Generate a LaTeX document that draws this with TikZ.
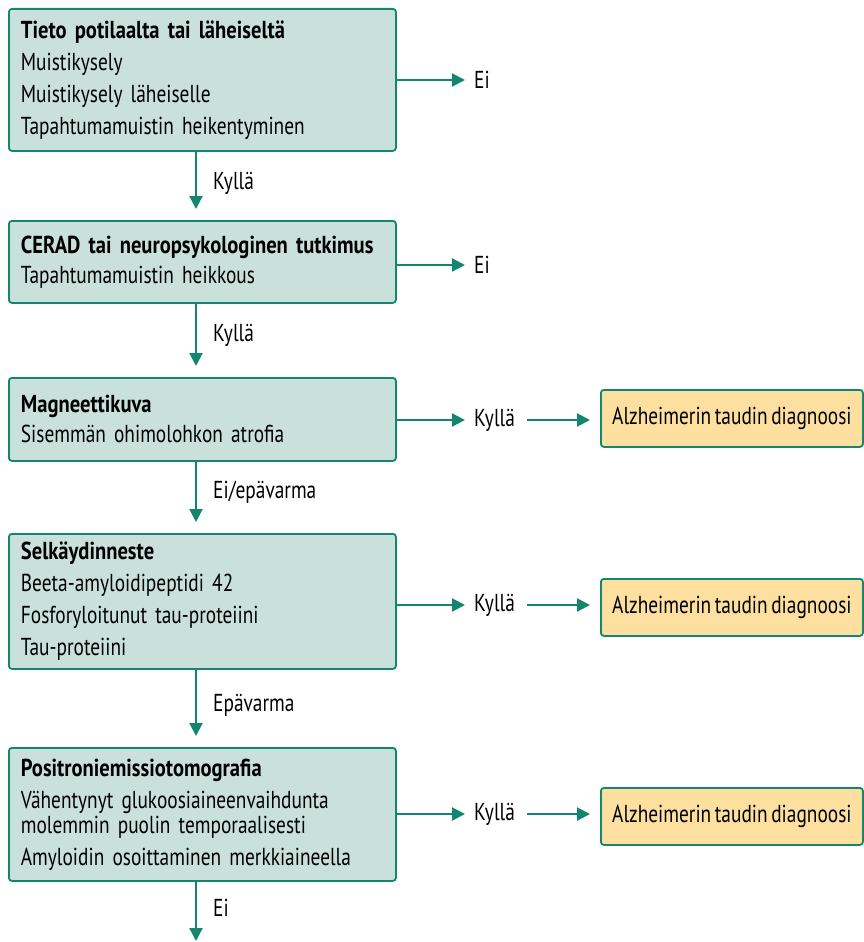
\documentclass[tikz,border=0pt]{standalone}
\usepackage{fontspec}
\setmainfont{PT Sans}[FakeStretch=0.79, WordSpace=0.7, BoldFeatures={FakeStretch=0.84}]
\usetikzlibrary{arrows.meta,calc}
\definecolor{tealline}{RGB}{18,134,110}
\definecolor{boxfill}{RGB}{201,225,218}
\definecolor{orfill}{RGB}{253,224,160}
\begin{document}
\begin{tikzpicture}[x=1pt,y=-1pt,
  box/.style={draw=tealline, line width=1.8pt, fill=boxfill, rounded corners=3pt,
    anchor=north west, align=left, inner xsep=0pt, inner ysep=0pt,
    minimum width=387pt, text width=363pt,
    font=\fontsize{24.5}{32}\selectfont},
  dbox/.style={draw=tealline, line width=1.8pt, fill=orfill, rounded corners=3pt,
    anchor=north west, minimum width=262pt, minimum height=57pt,
    inner xsep=0pt, font=\fontsize{24.5}{28}\selectfont},
  lbl/.style={anchor=west, inner sep=0pt, font=\fontsize{24.5}{28}\selectfont},
  arr/.style={draw=tealline, line width=2.2pt,
    -{Triangle[length=13pt,width=13pt]}},
]
\useasboundingbox (0,0) rectangle (863,942);
\coordinate (v) at (196,0);

% main boxes
\node[box, minimum height=142pt] (b1) at (8,8) {\textbf{Tieto potilaalta tai läheiseltä}\\
Muistikysely\\
Muistikysely läheiselle\\
Tapahtumamuistin heikentyminen};
\node[box, minimum height=82pt] (b2) at (8,220) {\textbf{CERAD tai neuropsykologinen tutkimus}\\[-2pt]
Tapahtumamuistin heikkous};
\node[box, minimum height=83pt] (b3) at (8,377) {\textbf{Magneettikuva}\\[-2pt]
Sisemmän ohimolohkon atrofia};
\node[box, minimum height=135pt] (b4) at (8,533) {\textbf{Selkäydinneste}\\
Beeta-amyloidipeptidi 42\\
Fosforyloitunut tau-proteiini\\
Tau-proteiini};
\node[box, minimum height=133pt] (b5) at (8,747) {\textbf{Positroniemissiotomografia}\\
Vähentynyt glukoosiaineenvaihdunta\\[-7pt]
molemmin puolin temporaalisesti\\
Amyloidin osoittaminen merkkiaineella};

% diagnosis boxes
\node[dbox] (d3) at (600,389) {Alzheimerin taudin diagnoosi};
\node[dbox] (d4) at (600,578) {Alzheimerin taudin diagnoosi};
\node[dbox] (d5) at (600,787) {Alzheimerin taudin diagnoosi};

% right labels
\node[lbl] (e1) at (474,80) {Ei};
\node[lbl] (e2) at (474,265) {Ei};
\node[lbl] (k3) at (474,420) {Kyllä};
\node[lbl] (k4) at (474,605) {Kyllä};
\node[lbl] (k5) at (474,814) {Kyllä};

% down labels
\node[lbl] (l1) at (213,183) {Kyllä};
\node[lbl] (l2) at (213,335) {Kyllä};
\node[lbl] (l3) at (213,492) {Ei/epävarma};
\node[lbl] (l4) at (213,705) {Epävarma};
\node[lbl] (l5) at (213,908) {Ei};
\coordinate (end) at (196,942);

% horizontal arrows
\draw[arr, shorten >=9pt] (b1.east |- e1.west) -- (e1.west);
\draw[arr, shorten >=9pt] (b2.east |- e2.west) -- (e2.west);
\draw[arr, shorten >=9pt] (b3.east |- k3.west) -- (k3.west);
\draw[arr, shorten >=9pt] (b4.east |- k4.west) -- (k4.west);
\draw[arr, shorten >=9pt] (b5.east |- k5.west) -- (k5.west);
\draw[arr, shorten <=12pt, shorten >=10pt] (k3.east) -- (d3.west |- k3.east);
\draw[arr, shorten <=12pt, shorten >=10pt] (k4.east) -- (d4.west |- k4.east);
\draw[arr, shorten <=12pt, shorten >=10pt] (k5.east) -- (d5.west |- k5.east);

% vertical arrows
\draw[arr, shorten >=11pt] (b1.south -| v) -- (b2.north -| v);
\draw[arr, shorten >=11pt] (b2.south -| v) -- (b3.north -| v);
\draw[arr, shorten >=11pt] (b3.south -| v) -- (b4.north -| v);
\draw[arr, shorten >=11pt] (b4.south -| v) -- (b5.north -| v);
\draw[arr, shorten >=1pt] (b5.south -| v) -- (end);
\end{tikzpicture}
\end{document}
